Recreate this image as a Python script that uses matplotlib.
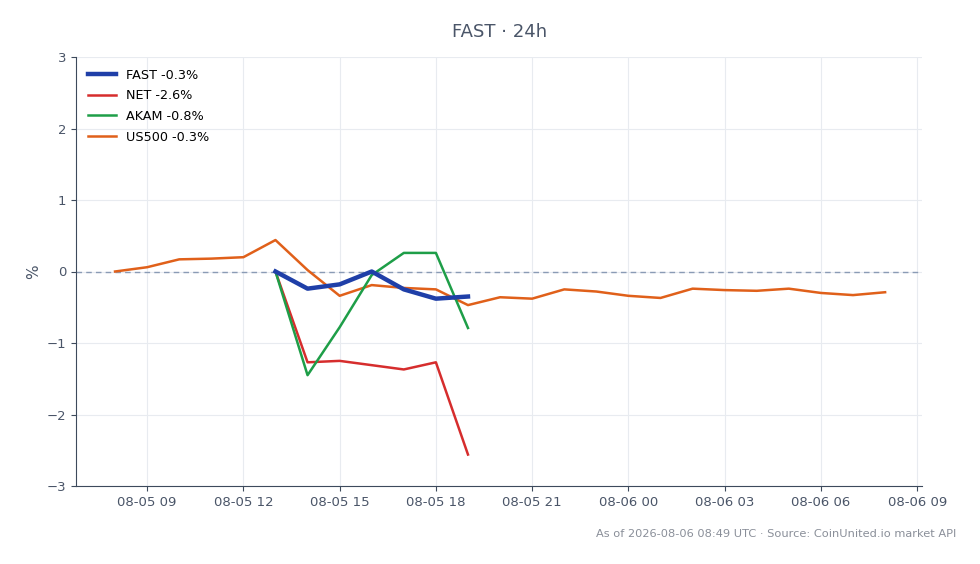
import numpy as np
import pandas as pd
import matplotlib
matplotlib.use("Agg")
import matplotlib.pyplot as plt
import matplotlib.dates as mdates

# hourly timestamps
t_us = pd.date_range("2026-08-05 08:00", "2026-08-06 08:00", freq="h")
t_st = pd.date_range("2026-08-05 13:00", "2026-08-05 19:00", freq="h")

fast = [0.0, -0.24, -0.18, 0.0, -0.25, -0.38, -0.35]
net = [0.0, -1.27, -1.25, -1.31, -1.37, -1.27, -2.56]
akam = [0.0, -1.45, -0.78, -0.05, 0.26, 0.26, -0.79]
us500 = [0.0, 0.06, 0.17, 0.18, 0.20, 0.44, 0.02, -0.34, -0.19, -0.23, -0.25,
         -0.47, -0.36, -0.38, -0.25, -0.28, -0.34, -0.37, -0.24, -0.26, -0.27,
         -0.24, -0.30, -0.33, -0.29]

labels = ["FAST -0.3%", "NET -2.6%", "AKAM -0.8%", "US500 -0.3%"]

fig = plt.figure(figsize=(9.8, 5.64), dpi=100)
ax = fig.add_axes([76/980, 1 - 486/564, (922-76)/980, (486-57)/564])

ax.plot(t_st, fast, color="#1f3fa8", lw=3.2, label=labels[0], zorder=5)
ax.plot(t_st, net, color="#d62d2d", lw=1.8, label=labels[1], zorder=4)
ax.plot(t_st, akam, color="#1e9e48", lw=1.8, label=labels[2], zorder=4)
ax.plot(t_us, us500, color="#e0601a", lw=1.8, label=labels[3], zorder=3)
ax.axhline(0, color="#8a9bb5", lw=1, ls=(0, (4, 3)), zorder=1)

ax.set_ylim(-3, 3)
ax.set_xlim(pd.Timestamp("2026-08-05 06:47"), pd.Timestamp("2026-08-06 09:09"))
ax.set_yticks([-3, -2, -1, 0, 1, 2, 3])
ax.set_yticklabels(["\u22123", "\u22122", "\u22121", "0", "1", "2", "3"])
ax.xaxis.set_major_locator(mdates.HourLocator(byhour=[0, 3, 6, 9, 12, 15, 18, 21]))
ax.xaxis.set_major_formatter(mdates.DateFormatter("%m-%d %H"))
ax.set_ylabel("%", color="#4a5568", fontsize=11)

ax.grid(True, color="#e8ebf0", lw=0.8)
ax.set_axisbelow(True)
for s in ["top", "right"]:
    ax.spines[s].set_visible(False)
for s in ["left", "bottom"]:
    ax.spines[s].set_color("#3d4a5c")
ax.tick_params(colors="#3d4a5c", labelcolor="#4a5568", labelsize=9.5)

ax.legend(loc="upper left", frameon=False, fontsize=9.2, handlelength=2.2,
          borderaxespad=0.5, labelspacing=0.6)

fig.suptitle("FAST \u00b7 24h", x=0.51, y=0.96, fontsize=13, color="#4a5568")
fig.text(0.976, 0.054, "As of 2026-08-06 08:49 UTC \u00b7 Source: CoinUnited.io market API",
         ha="right", va="center", fontsize=8.2, color="#8a8f99")

fig.savefig("out.png", dpi=100)
